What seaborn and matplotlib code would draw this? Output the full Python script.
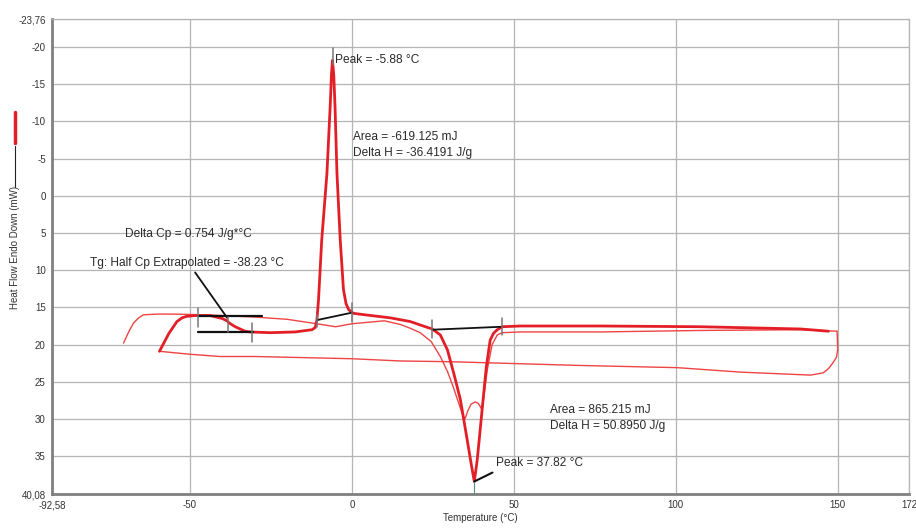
import pandas as pd
import seaborn as sns
import matplotlib.pyplot as plt
from matplotlib.lines import Line2D

# 1st heating (thin)
heat1_t = [-70.5, -68.8, -67.4, -65.8, -64.4, -60, -55, -45, -30, -20, -10.8, -5, 0, 10, 15, 18, 21.1, 24.5,
           27.3, 29.5, 31.3, 33.0, 34.4, 35.0, 35.8, 36.8, 38.1, 39.0, 39.6, 40.2, 41.8, 43.3, 44.9, 46.4,
           52, 76.7, 107.6, 138.5, 149.8]
heat1_hf = [19.8, 18.2, 17.1, 16.4, 16.0, 15.9, 15.9, 16.0, 16.3, 16.6, 17.2, 17.6, 17.2, 16.8, 17.3, 17.8,
            18.4, 19.6, 21.6, 23.6, 25.7, 27.9, 29.7, 29.9, 28.9, 28.0, 27.7, 27.9, 28.3, 28.8, 23.4, 20.0,
            18.7, 18.4, 18.3, 18.3, 18.1, 18.0, 18.2]

# cooling (thin)
cool_t = [149.8, 150.0, 149.6, 148.6, 147.2, 145.5, 141.6, 120, 100.5, 70, 30.4, 14.9, 0, -30, -40.7, -50, -59.4]
cool_hf = [18.2, 20.7, 21.7, 22.4, 23.2, 23.8, 24.1, 23.7, 23.1, 22.8, 22.3, 22.2, 21.9, 21.6, 21.6, 21.3, 20.9]

# 2nd heating (thick)
heat2_t = [-59.4, -56.5, -54.0, -52.4, -51.0, -48.4, -43.7, -40.0, -38.6, -37.5, -36.0, -34.5, -33.0, -31.4,
           -25.2, -17.5, -12.3, -11.3, -10.8, -10.3, -9.3, -7.7, -6.7, -6.3, -6.0, -5.6, -5.2, -4.6, -3.6,
           -2.6, -1.8, -1.0, 0.5, 4.1, 11.8, 18.0, 22.7, 24.8, 27.3, 29.5, 31.6, 33.5, 35.6, 36.9, 37.8,
           38.7, 39.6, 40.2, 41.5, 42.7, 43.7, 44.9, 46.4, 52.0, 76.7, 107.6, 138.5, 147.1]
heat2_hf = [20.9, 18.5, 16.9, 16.4, 16.2, 16.1, 16.1, 16.5, 16.8, 17.2, 17.6, 17.9, 18.2, 18.3,
            18.4, 18.3, 18.0, 17.7, 16.7, 14.0, 5.9, -3.0, -12.0, -16.3, -18.2, -16.3, -12.0, -3.0, 5.9,
            12.6, 14.5, 15.3, 15.8, 16.0, 16.4, 16.9, 17.6, 17.9, 18.7, 20.7, 24.1, 27.4, 32.8, 36.2, 38.4,
            35.5, 31.5, 28.8, 23.0, 19.4, 18.5, 18.0, 17.6, 17.5, 17.5, 17.6, 17.9, 18.2]

# analysis construction lines (black)
tg_upper_t, tg_upper_hf = [-47.4, -27.7], [16.1, 16.1]
tg_lower_t, tg_lower_hf = [-47.4, -30.5], [18.3, 18.3]
tg_lead_t, tg_lead_hf = [-48.4, -38.5], [10.3, 16.4]
cryst_base_t, cryst_base_hf = [-10.7, 0.1], [16.7, 15.7]
melt_base_t, melt_base_hf = [24.8, 46.4], [18.0, 17.6]
melt_lead_t, melt_lead_hf = [37.8, 43.4], [38.4, 37.2]
ticks_marks = [(-47.4, 15.1, 17.6), (-38.2, 16.3, 18.3), (-30.8, 17.1, 19.6),
               (-10.7, 16.0, 17.7), (0.1, 14.4, 16.9), (-5.88, -19.8, -17.6),
               (24.8, 16.7, 19.1), (46.4, 16.4, 18.7)]

xmin, xmax = -92.58, 172
ymin, ymax = -23.76, 40.08
xticks = [-92.58, -50, 0, 50, 100, 150, 172]
xtick_labels = ['-92,58', '-50', '0', '50', '100', '150', '172']
yticks = [-23.76, -20, -15, -10, -5, 0, 5, 10, 15, 20, 25, 30, 35, 40.08]
ytick_labels = ['-23,76', '-20', '-15', '-10', '-5', '0', '5', '10', '15', '20', '25', '30', '35', '40,08']

sns.set_style('white')
plt.rcParams['font.family'] = ['Liberation Sans', 'DejaVu Sans']

fig = plt.figure(figsize=(9.16, 5.28), dpi=100)
ax = fig.add_axes([52 / 916, 1 - 494 / 528, 857 / 916, 475 / 528])

red_thin = '#ee4444'
red_thick = '#e41e26'

df1 = pd.DataFrame({'t': heat1_t, 'hf': heat1_hf})
dfc = pd.DataFrame({'t': cool_t, 'hf': cool_hf})
df2 = pd.DataFrame({'t': heat2_t, 'hf': heat2_hf})
sns.lineplot(data=df1, x='t', y='hf', sort=False, estimator=None, color=red_thin, lw=1.0,
             solid_joinstyle='round', ax=ax)
sns.lineplot(data=dfc, x='t', y='hf', sort=False, estimator=None, color=red_thin, lw=1.0,
             solid_joinstyle='round', ax=ax)
sns.lineplot(data=df2, x='t', y='hf', sort=False, estimator=None, color=red_thick, lw=2.0,
             solid_joinstyle='round', ax=ax)

for tx, ty, w in [(tg_upper_t, tg_upper_hf, 1.6), (tg_lower_t, tg_lower_hf, 1.6), (tg_lead_t, tg_lead_hf, 1.3),
                  (cryst_base_t, cryst_base_hf, 1.3), (melt_base_t, melt_base_hf, 1.3),
                  (melt_lead_t, melt_lead_hf, 1.5)]:
    ax.plot(tx, ty, color='#111111', lw=w)
for xt, y0, y1 in ticks_marks:
    ax.plot([xt, xt], [y0, y1], color='#777777', lw=1.1)
ax.plot([37.8, 37.8], [38.4, ymax], color='#5a8a8a', lw=0.8)

# annotations
fs = 8.6
tc = '#2a2a2a'
ax.text(-5.1, -18.3, 'Peak = -5.88 °C', fontsize=fs, va='center', color=tc)
ax.text(0.4, -7.9, 'Area = -619.125 mJ', fontsize=fs, va='center', color=tc)
ax.text(0.4, -5.8, 'Delta H = -36.4191 J/g', fontsize=fs, va='center', color=tc)
ax.text(61.3, 28.8, 'Area = 865.215 mJ', fontsize=fs, va='center', color=tc)
ax.text(61.3, 30.9, 'Delta H = 50.8950 J/g', fontsize=fs, va='center', color=tc)
ax.text(44.6, 35.9, 'Peak = 37.82 °C', fontsize=fs, va='center', color=tc)
ax.text(-70.0, 5.2, 'Delta Cp = 0.754 J/g*°C', fontsize=fs, va='center', color=tc)
ax.text(-80.8, 9.1, 'Tg: Half Cp Extrapolated = -38.23 °C', fontsize=fs, va='center', color=tc)

ax.set_xlim(xmin, xmax)
ax.set_ylim(ymax, ymin)
ax.set_xticks(xticks)
ax.set_xticklabels(xtick_labels)
ax.set_yticks(yticks)
ax.set_yticklabels(ytick_labels)
ax.grid(True, color='#b4b4b4', lw=0.9)
ax.set_axisbelow(True)
ax.tick_params(axis='both', labelsize=7, direction='inout', length=5, width=1,
               color='#808080', labelcolor='#333333', pad=2)
for s in ['left', 'bottom']:
    ax.spines[s].set_color('#808080')
    ax.spines[s].set_linewidth(2)
for s in ['top', 'right']:
    ax.spines[s].set_color('#b4b4b4')
    ax.spines[s].set_linewidth(0.9)
ax.set_xlabel('Temperature (°C)', fontsize=7, color='#333333', labelpad=2)
ax.set_ylabel('')

# y label with legend line samples
fig.add_artist(Line2D([15 / 916, 15 / 916], [1 - 112 / 528, 1 - 143 / 528], color=red_thick, lw=2.5))
fig.add_artist(Line2D([15 / 916, 15 / 916], [1 - 146 / 528, 1 - 187 / 528], color='#222222', lw=0.8))
fig.text(15 / 916, 1 - 247 / 528, 'Heat Flow Endo Down (mW)', rotation=90, ha='center', va='center',
         fontsize=7, color='#333333')

plt.savefig('out.png', dpi=100)
